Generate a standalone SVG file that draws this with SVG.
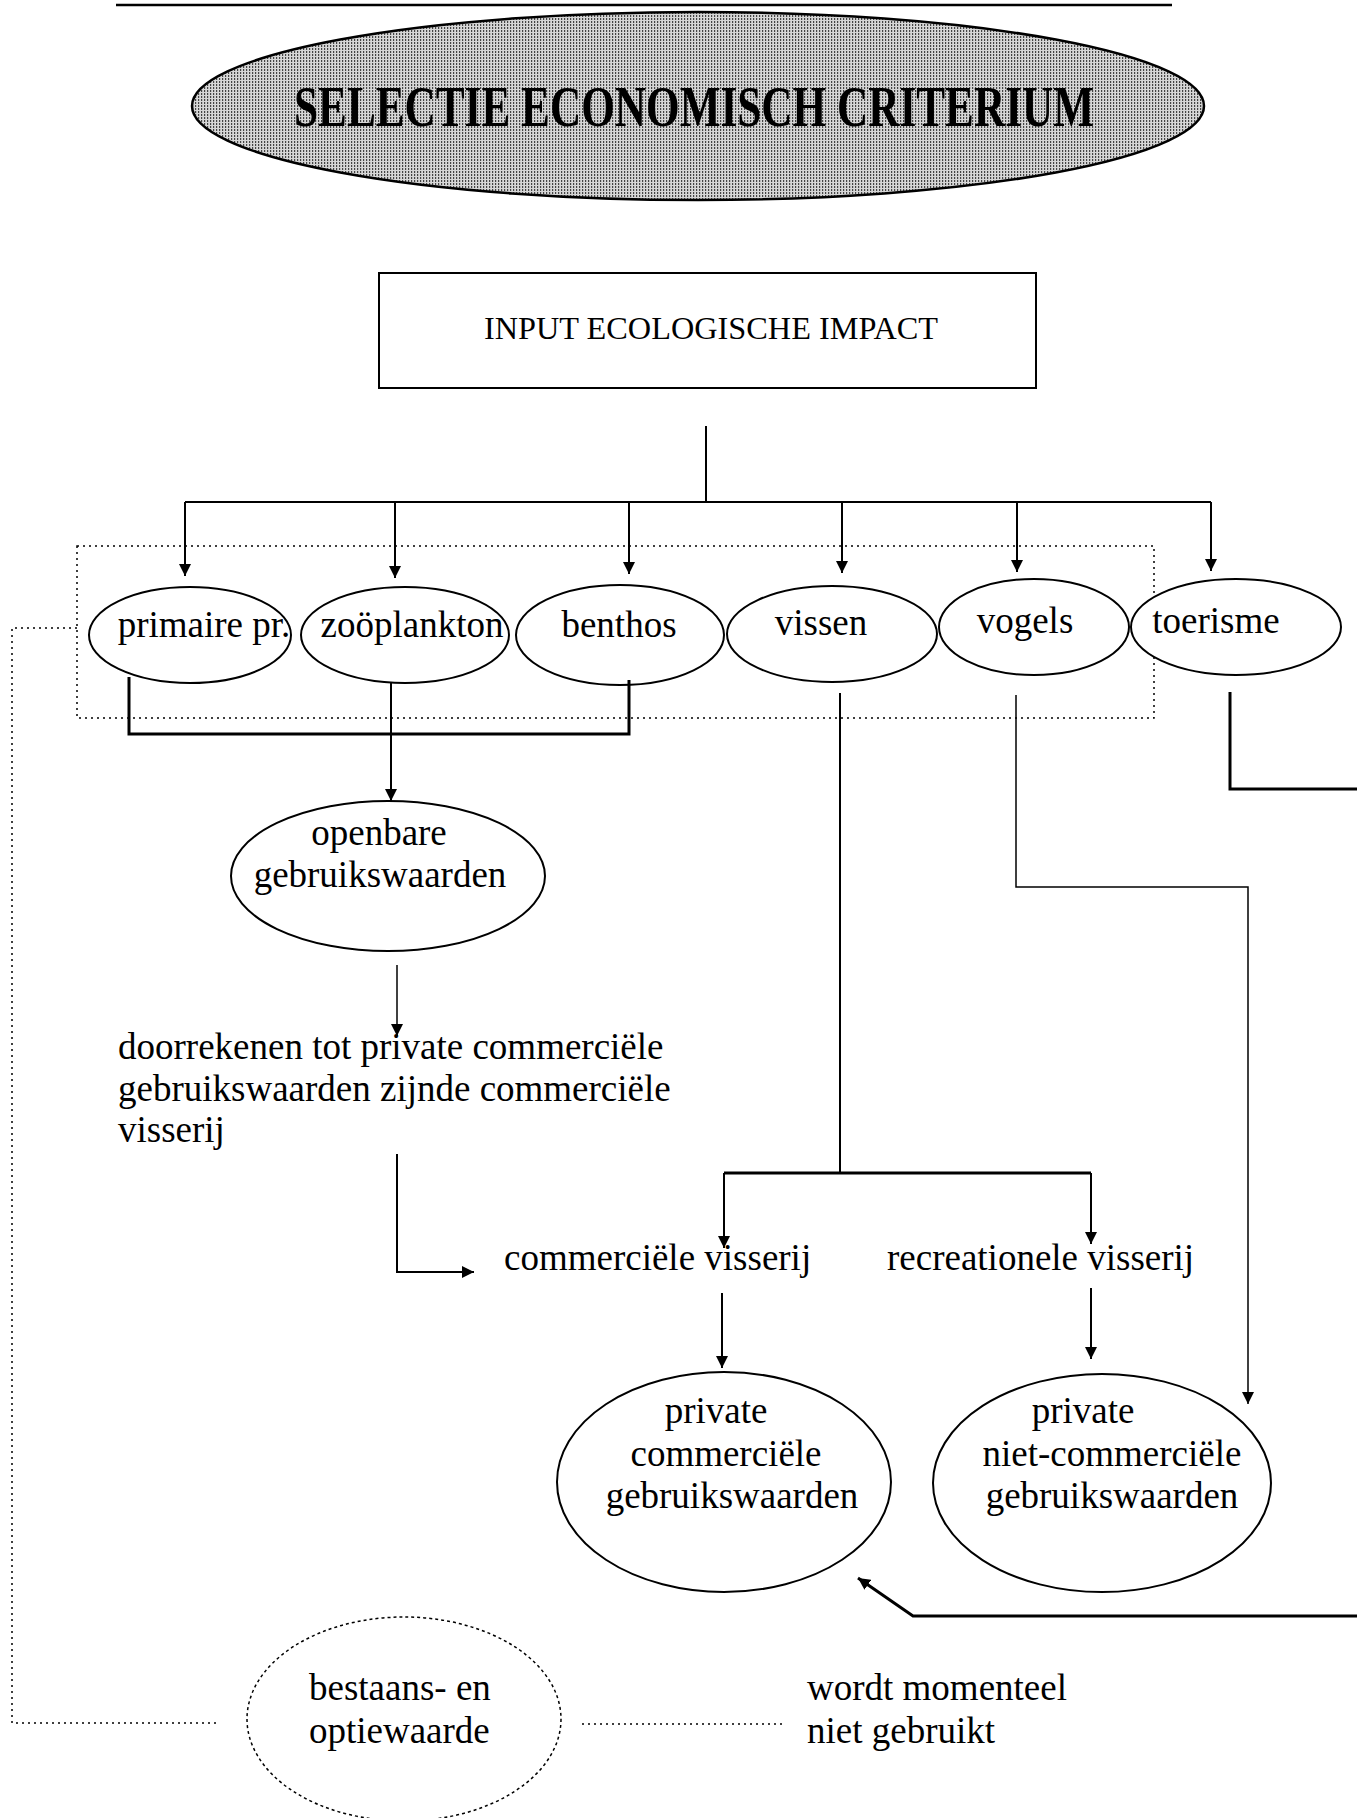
<svg xmlns="http://www.w3.org/2000/svg" width="1357" height="1818" viewBox="0 0 1357 1818">
  <defs>
    <pattern id="halftone" width="3" height="3" patternUnits="userSpaceOnUse">
      <rect width="3" height="3" fill="#d6d6d6"/>
      <rect x="0" y="0" width="1.2" height="2" fill="#444"/>
    </pattern>
    <marker id="ah" viewBox="0 0 12 12" refX="12" refY="6" markerWidth="12" markerHeight="12" markerUnits="userSpaceOnUse" orient="auto">
      <path d="M0,0 L12,6 L0,12 z" fill="#000"/>
    </marker>
  </defs>
  <style>
    text { font-family: "Liberation Serif", "Times New Roman", serif; fill: #000; }
    .lbl { font-size: 37px; text-anchor: middle; }
    .free { font-size: 37px; }
    .node { fill: #fff; stroke: #000; stroke-width: 2; }
    .wire { fill: none; stroke: #000; stroke-width: 2; }
    .thick { stroke-width: 3; }
    .thin { stroke-width: 1.5; }
    .dots { fill: none; stroke: #000; stroke-width: 1.5; stroke-dasharray: 2 4; }
  </style>
  <rect width="1357" height="1818" fill="#fff"/>

  <!-- page rule -->
  <line x1="116" y1="5" x2="1172" y2="5" stroke="#000" stroke-width="2.5"/>

  <g id="title">
    <ellipse cx="698" cy="106" rx="506" ry="94" fill="url(#halftone)" stroke="#000" stroke-width="2.5"/>
    <text x="694" y="126" text-anchor="middle" font-size="56" font-weight="bold" textLength="800" lengthAdjust="spacingAndGlyphs">SELECTIE ECONOMISCH CRITERIUM</text>
  </g>

  <g id="input">
    <rect x="379" y="273" width="657" height="115" class="node"/>
    <text x="711" y="339" text-anchor="middle" font-size="31" textLength="454" lengthAdjust="spacingAndGlyphs">INPUT ECOLOGISCHE IMPACT</text>
  </g>

  <!-- grouping frame round the ecological inputs -->
  <rect id="frame" x="77" y="546" width="1077" height="172" class="dots"/>

  <g id="primaire">
    <ellipse cx="190" cy="635" rx="101" ry="48" class="node"/>
    <text x="204" y="637" class="lbl">primaire pr.</text>
  </g>
  <g id="zooplankton">
    <ellipse cx="405" cy="635" rx="104" ry="48" class="node"/>
    <text x="412" y="637" class="lbl">zoöplankton</text>
  </g>
  <g id="benthos">
    <ellipse cx="620" cy="635" rx="104" ry="50" class="node"/>
    <text x="619" y="637" class="lbl">benthos</text>
  </g>
  <g id="vissen">
    <ellipse cx="832" cy="634" rx="105" ry="48" class="node"/>
    <text x="821" y="635" class="lbl">vissen</text>
  </g>
  <g id="vogels">
    <ellipse cx="1034" cy="627" rx="95" ry="48" class="node"/>
    <text x="1025" y="633" class="lbl">vogels</text>
  </g>
  <g id="toerisme">
    <ellipse cx="1236" cy="627" rx="105" ry="48" class="node"/>
    <text x="1216" y="633" class="lbl">toerisme</text>
  </g>

  <g id="openbare">
    <ellipse cx="388" cy="876" rx="157" ry="75" class="node"/>
    <text x="379" y="845" class="lbl">openbare</text>
    <text x="380" y="887" class="lbl">gebruikswaarden</text>
  </g>

  <g id="doorrekenen">
    <text x="118" y="1059" class="free">doorrekenen tot private commerciële</text>
    <text x="118" y="1101" class="free">gebruikswaarden zijnde commerciële</text>
    <text x="118" y="1142" class="free">visserij</text>
  </g>

  <g id="commerciele-visserij">
    <text x="504" y="1270" class="free">commerciële visserij</text>
  </g>
  <g id="recreationele-visserij">
    <text x="887" y="1270" class="free">recreationele visserij</text>
  </g>

  <g id="private-commercieel">
    <ellipse cx="724" cy="1482" rx="167" ry="110" class="node"/>
    <text x="716" y="1423" class="lbl">private</text>
    <text x="726" y="1466" class="lbl">commerciële</text>
    <text x="732" y="1508" class="lbl">gebruikswaarden</text>
  </g>
  <g id="private-niet-commercieel">
    <ellipse cx="1102" cy="1483" rx="169" ry="109" class="node"/>
    <text x="1083" y="1423" class="lbl">private</text>
    <text x="1112" y="1466" class="lbl">niet-commerciële</text>
    <text x="1112" y="1508" class="lbl">gebruikswaarden</text>
  </g>

  <g id="bestaanswaarde">
    <ellipse cx="404" cy="1719" rx="157" ry="102" fill="#fff" stroke="#000" stroke-width="1.5" stroke-dasharray="3 3"/>
    <text x="309" y="1700" class="free">bestaans- en</text>
    <text x="309" y="1743" class="free">optiewaarde</text>
  </g>

  <g id="niet-gebruikt">
    <text x="807" y="1700" class="free">wordt momenteel</text>
    <text x="807" y="1743" class="free">niet gebruikt</text>
  </g>

  <g id="connectors">
    <!-- input to distribution bus -->
    <path d="M706,426 V502" class="wire"/>
    <path d="M185,502 H1211" class="wire"/>
    <path d="M185,502 V576" class="wire" marker-end="url(#ah)"/>
    <path d="M395,502 V578" class="wire" marker-end="url(#ah)"/>
    <path d="M629,502 V574" class="wire" marker-end="url(#ah)"/>
    <path d="M842,502 V573" class="wire" marker-end="url(#ah)"/>
    <path d="M1017,502 V572" class="wire" marker-end="url(#ah)"/>
    <path d="M1211,502 V571" class="wire" marker-end="url(#ah)"/>

    <!-- primaire / benthos joined into zooplankton path -->
    <path d="M129,677 V734 H629 V680" class="wire thick"/>
    <path d="M391,683 V801" class="wire" marker-end="url(#ah)"/>

    <!-- openbare down to text, then on to commerciële visserij -->
    <path d="M397,965 V1036" class="wire thin" marker-end="url(#ah)"/>
    <path d="M397,1154 V1272 H474" class="wire" marker-end="url(#ah)"/>

    <!-- vissen split into two fisheries -->
    <path d="M840,693 V1173" class="wire"/>
    <path d="M724,1173 H1091" class="wire thick"/>
    <path d="M724,1173 V1248" class="wire" marker-end="url(#ah)"/>
    <path d="M1091,1173 V1244" class="wire" marker-end="url(#ah)"/>
    <path d="M722,1293 V1368" class="wire" marker-end="url(#ah)"/>
    <path d="M1091,1288 V1359" class="wire" marker-end="url(#ah)"/>

    <!-- vogels to private niet-commercieel -->
    <path d="M1016,695 V887 H1248 V1404" class="wire thin" marker-end="url(#ah)"/>

    <!-- toerisme round the right margin back to private commercieel -->
    <path d="M1230,692 V789 H1357" class="wire thick"/>
    <path d="M1357,1616 H913 L858,1578" class="wire thick" marker-end="url(#ah)"/>

    <!-- dotted links for non-use values -->
    <path d="M77,628 H12 V1723 H217" class="dots"/>
    <path d="M582,1724 H786" class="dots"/>
  </g>
</svg>
